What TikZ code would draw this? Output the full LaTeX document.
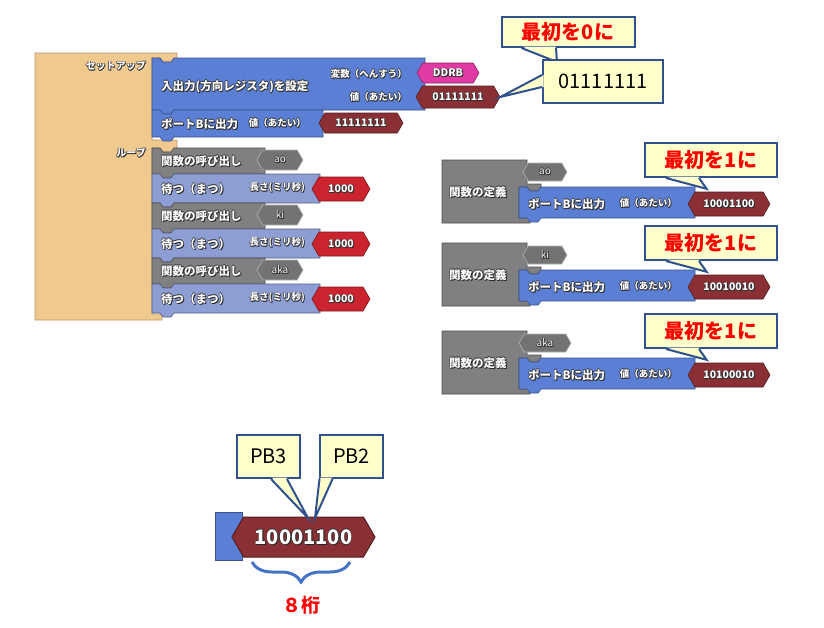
\documentclass[tikz,border=0pt]{standalone}
\usepackage{fontspec}
\setmainfont{Noto Sans CJK JP}
\usetikzlibrary{shapes.symbols, decorations.pathreplacing, calc}

\definecolor{setuptan}{RGB}{240,201,143}
\definecolor{stmtblue}{RGB}{91,127,212}
\definecolor{waitblue}{RGB}{141,158,212}
\definecolor{callgrey}{RGB}{128,128,128}
\definecolor{valmaroon}{RGB}{138,48,52}
\definecolor{valred}{RGB}{204,36,46}
\definecolor{valpink}{RGB}{226,58,164}
\definecolor{noteyellow}{RGB}{255,255,204}
\definecolor{noteblue}{RGB}{47,82,143}
\definecolor{bracecol}{RGB}{68,114,196}

% white block text with a dark rim
\newcommand{\outl}[1]{%
  \rlap{\kern0.9pt\raisebox{-0.9pt}{\textcolor{black!85}{#1}}}%
  \rlap{\kern-0.7pt\textcolor{black!80}{#1}}%
  \rlap{\kern0.7pt\textcolor{black!80}{#1}}%
  \rlap{\raisebox{0.7pt}{\textcolor{black!80}{#1}}}%
  \rlap{\raisebox{-0.7pt}{\textcolor{black!80}{#1}}}%
  #1}

% statement block: x1, y1, x2, y2, style
\newcommand{\stmtblock}[5]{%
  \filldraw[#5] (#1,#2) -- ({#1+8},#2) -- ({#1+11},{#2+4}) -- ({#1+19},{#2+4}) -- ({#1+22},#2)
    -- (#3,#2) -- (#3,#4) -- ({#1+22},#4) -- ({#1+19},{#4+4}) -- ({#1+11},{#4+4})
    -- ({#1+8},#4) -- (#1,#4) -- cycle;}

\tikzset{
  lbl/.style={font=\bfseries\fontsize{10}{10}\selectfont, text=white, inner sep=0},
  mtxt/.style={font=\bfseries\fontsize{11.5}{11.5}\selectfont, text=white, inner sep=0},
  stxt/.style={font=\bfseries\fontsize{9.5}{9.5}\selectfont, text=white, inner sep=0},
  val/.style={shape=signal, signal to=east and west, signal pointer angle=120,
    inner sep=0, minimum height=20, line width=0.6, text=white,
    font=\bfseries\fontsize{10.5}{10.5}\selectfont},
  maroonval/.style={val, fill=valmaroon, draw=valmaroon!60!black},
  redval/.style={val, fill=valred, draw=valred!60!black},
  pinkval/.style={val, fill=valpink, draw=valpink!60!black},
  greyval/.style={val, fill=callgrey!90!black, draw=callgrey!60!white,
    font=\fontsize{10}{10}\selectfont},
  setblk/.style={fill=stmtblue, draw=stmtblue!65!black, line width=0.6},
  waitblk/.style={fill=waitblue, draw=waitblue!60!black, line width=0.6},
  callblk/.style={fill=callgrey, draw=callgrey!60!black, line width=0.6},
  tanblk/.style={fill=setuptan, draw=setuptan!75!black, line width=0.6},
  note/.style={draw=noteblue, fill=noteyellow, line width=2, inner sep=0},
  notered/.style={note, text=red, font=\bfseries\fontsize{20}{20}\selectfont},
  noteblack/.style={note, text=black, font=\fontsize{20}{20}\selectfont},
  tailfill/.style={fill=noteyellow},
  tailline/.style={draw=noteblue, line width=2, line join=miter},
}

\begin{document}
\begin{tikzpicture}[x=1pt, y=-1pt]
    \useasboundingbox (0,0) rectangle (824,627);
    \fill[white] (0,0) rectangle (824,627);

    % Setup / loop frame
    \filldraw[tanblk] (35,53) -- (177,53) -- (177,58) -- (174,58) -- (171,62) -- (163,62) -- (160,58)
        -- (152,58) -- (152,140) -- (177,140) -- (177,148) -- (174,148) -- (171,152) -- (163,152)
        -- (160,148) -- (152,148) -- (152,314) -- (162,314) -- (162,320) -- (35,320) -- cycle;
    \node[lbl, anchor=east] (setup) at (146,66) {\outl{セットアップ}};
    \node[lbl, anchor=east] (loop) at (146,153) {\outl{ループ}};

    % Setup statements
    \stmtblock{152}{58}{425}{110}{setblk}
    \node[mtxt, anchor=west] (dirset) at (161,87) {\outl{入出力(方向レジスタ)を設定}};
    \node[stxt, anchor=east] (hensu) at (407,74) {\outl{変数（へんすう）}};
    \node[stxt, anchor=east] (atai0) at (407,97) {\outl{値（あたい）}};
    \node[pinkval, minimum width=62] (ddrb) at (448,73) {\outl{DDRB}};
    \node[maroonval, minimum width=84, minimum height=22] (vdir) at (458,97) {\outl{01111111}};

    \stmtblock{152}{110}{323}{137}{setblk}
    \node[mtxt, anchor=west] (portout) at (161,124) {\outl{ポートBに出力}};
    \node[stxt, anchor=east] (atai1) at (306,123) {\outl{値（あたい）}};
    \node[maroonval, minimum width=84] (vport) at (361,123) {\outl{11111111}};

    % Loop statements
    \foreach \cy/\fn/\k in {148/ao/1, 203/ki/2, 258/aka/3} {
        \stmtblock{152}{\cy}{265}{\cy+26}{callblk}
        \node[mtxt, anchor=west] (call\k) at (161,\cy+13) {\outl{関数の呼び出し}};
        \node[greyval, minimum width=46] (fn\k) at (280,\cy+12) {\outl{\fn}};
        \stmtblock{152}{\cy+26}{320}{\cy+55}{waitblk}
        \node[mtxt, anchor=west] (wait\k) at (161,\cy+41) {\outl{待つ（まつ）}};
        \node[stxt, anchor=east] (msec\k) at (305,\cy+40) {\outl{長さ(ミリ秒)}};
        \node[redval, minimum width=58, minimum height=24] (ms\k) at (341,\cy+41) {\outl{1000}};
    }

    % Function definitions
    \foreach \by/\fn/\bits/\tw/\k in {160/ao/10001100/44/1, 243/ki/10010010/44/2, 331/aka/10100010/52/3} {
        \filldraw[callblk] (442,\by) -- (527,\by) -- (527,\by+24) -- (541,\by+24) -- (541,\by+27)
            -- (538,\by+31) -- (530,\by+31) -- (527,\by+27) -- (519,\by+27) -- (519,\by+58)
            -- (530,\by+58) -- (530,\by+63) -- (442,\by+63) -- cycle;
        \node[mtxt, anchor=west] (def\k) at (449,\by+32) {\outl{関数の定義}};
        \node[greyval, minimum width=\tw, minimum height=18] (name\k) at (545,\by+12) {\outl{\fn}};
        \stmtblock{519}{\by+27}{695}{\by+58}{setblk}
        \node[mtxt, anchor=west] (pout\k) at (528,\by+44) {\outl{ポートBに出力}};
        \node[stxt, anchor=east] (patai\k) at (677,\by+43) {\outl{値（あたい）}};
        \node[maroonval, minimum width=82, minimum height=24] (bits\k) at (729,\by+44) {\outl{\bits}};

        % note: first bit is 1
        \node[notered, minimum width=132, minimum height=34] (c\k) at (711,\by) {最初を1に};
        \coordinate (tip\k) at ($(bits\k.north west)+(12,-3)$);
        \fill[tailfill] ($(c\k.south west)+(22.5,-1.5)$) -- ($(c\k.south west)+(54.5,-1.5)$) -- (tip\k) -- cycle;
        \draw[tailline] ($(c\k.south west)+(22,0)$) -- (tip\k) -- ($(c\k.south west)+(55,0)$);
    }

    % Notes on the direction register value
    \node[notered, minimum width=133, minimum height=30] (first0) at (568,32) {最初を0に};
    \coordinate (tip0) at (557,62);
    \fill[tailfill] ($(first0.south west)+(22,-1.5)$) -- ($(first0.south west)+(55,-1.5)$) -- (tip0) -- cycle;
    \draw[tailline] ($(first0.south west)+(21,0)$) -- (tip0) -- ($(first0.south west)+(55.5,0)$);

    \node[noteblack, minimum width=120, minimum height=43] (bin0) at (603,81.5) {01111111};
    \fill[tailfill] ($(bin0.west)+(1.5,-6.5)$) -- ($(bin0.west)+(1.5,5.5)$) -- (vdir.east) -- cycle;
    \draw[tailline] ($(bin0.west)+(0,-6.5)$) -- (vdir.east) -- ($(bin0.west)+(0,5.5)$);

    % Enlarged value
    \filldraw[setblk] (215,512) rectangle (242,560);
    \node[maroonval, minimum width=143, minimum height=40, line width=1,
        font=\bfseries\fontsize{20}{20}\selectfont] (big) at (303.5,537) {\outl{10001100}};

    \node[noteblack, minimum width=63, minimum height=43] (pb3) at (268.5,456.5) {PB3};
    \node[noteblack, minimum width=63, minimum height=43] (pb2) at (351.5,456.5) {PB2};
    \coordinate (pb3tip) at (308,518);
    \coordinate (pb2tip) at (315,518);
    \fill[tailfill] ($(pb3.south west)+(36,-1.5)$) -- ($(pb3.south west)+(50.5,-1.5)$) -- (pb3tip) -- cycle;
    \draw[tailline] ($(pb3.south west)+(35,0)$) -- (pb3tip) -- ($(pb3.south west)+(51,0)$);
    \fill[tailfill] ($(pb2.south west)+(1.5,-1.5)$) -- ($(pb2.south west)+(13,-1.5)$) -- (pb2tip) -- cycle;
    \draw[tailline] ($(pb2.south west)+(0.5,0)$) -- (pb2tip) -- ($(pb2.south west)+(13.5,0)$);

    % Eight digits
    \coordinate (brl) at (252,562);
    \coordinate (brr) at (350,562);
    \draw[bracecol, line width=3, decorate, decoration={brace, mirror, amplitude=20pt, aspect=0.5}] (brl) -- (brr);
    \node[text=red, font=\bfseries\fontsize{19}{19}\selectfont] (keta) at (301,605) {８桁};
\end{tikzpicture}
\end{document}
